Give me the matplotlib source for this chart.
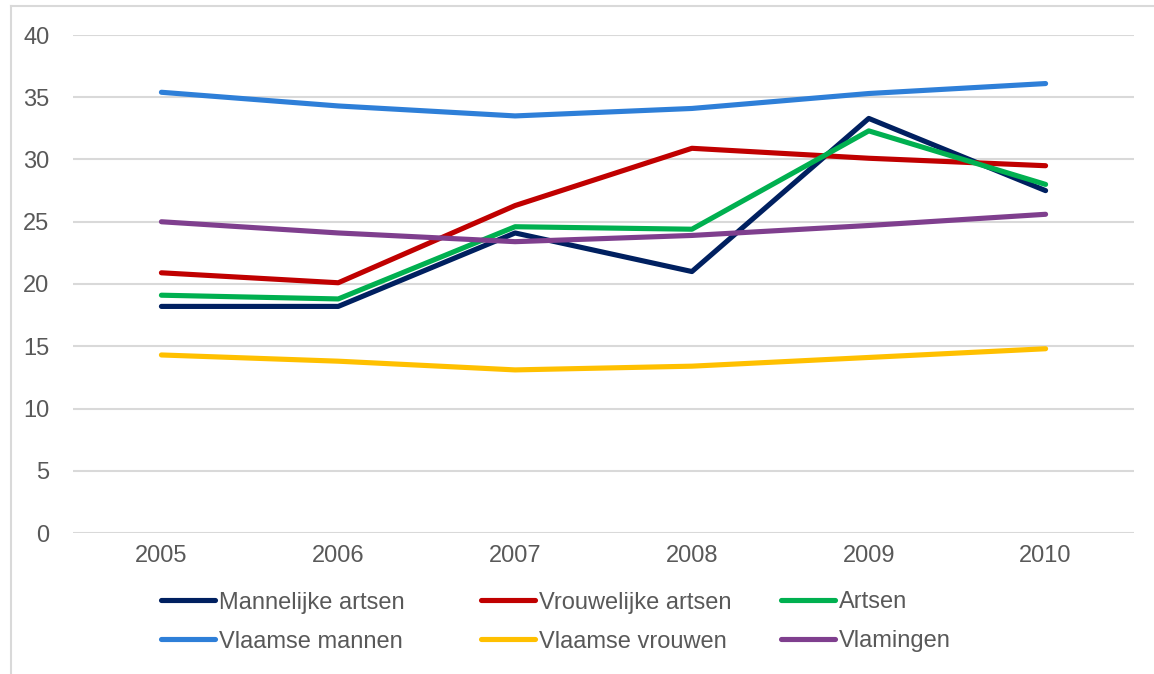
import matplotlib
matplotlib.use("Agg")
import matplotlib.pyplot as plt
from matplotlib.lines import Line2D

years = ["2005", "2006", "2007", "2008", "2009", "2010"]
mannelijke_artsen = [18.2, 18.2, 24.1, 21.0, 33.3, 27.5]
vrouwelijke_artsen = [20.9, 20.1, 26.3, 30.9, 30.1, 29.5]
artsen = [19.1, 18.8, 24.6, 24.4, 32.3, 28.0]
vlaamse_mannen = [35.4, 34.3, 33.5, 34.1, 35.3, 36.1]
vlaamse_vrouwen = [14.3, 13.8, 13.1, 13.4, 14.1, 14.8]
vlamingen = [25.0, 24.1, 23.4, 23.9, 24.7, 25.6]
yticks = [0, 5, 10, 15, 20, 25, 30, 35, 40]

series = [
    ("Mannelijke artsen", mannelijke_artsen, "#002060"),
    ("Vrouwelijke artsen", vrouwelijke_artsen, "#C00000"),
    ("Artsen", artsen, "#00B050"),
    ("Vlaamse mannen", vlaamse_mannen, "#2E7FD8"),
    ("Vlaamse vrouwen", vlaamse_vrouwen, "#FFC000"),
    ("Vlamingen", vlamingen, "#7F3F8E"),
]

plt.rcParams['font.family'] = ['Liberation Sans', 'DejaVu Sans']
W, H = 1154, 674
fig = plt.figure(figsize=(W / 100, H / 100), dpi=100)
ax = fig.add_axes([73 / W, 1 - 533 / H, (1134 - 73) / W, (533 - 35) / H])

x = list(range(len(years)))
handles = {}
for name, vals, col in series:
    ln, = ax.plot(x, vals, color=col, lw=3.7, solid_capstyle='round',
                  solid_joinstyle='round', label=name)
    handles[name] = ln

ax.set_xlim(-0.5, len(years) - 0.5)
ax.set_ylim(0, 40)
ax.set_yticks(yticks)
ax.set_xticks(x)
ax.set_xticklabels(years)
ax.grid(axis='y', color='#D9D9D9', lw=1.5)
ax.set_axisbelow(True)
for s in ax.spines.values():
    s.set_visible(False)
ax.tick_params(axis='both', length=0, labelsize=17, labelcolor='#595959')
ax.tick_params(axis='y', pad=17)
ax.tick_params(axis='x', pad=9)

# legend: three columns placed individually
cols = [
    (["Mannelijke artsen", "Vlaamse mannen"], 161),
    (["Vrouwelijke artsen", "Vlaamse vrouwen"], 481),
    (["Artsen", "Vlamingen"], 781),
]
for names, xpx in cols:
    hs = [Line2D([0], [0], color=handles[n].get_color(), lw=3.7,
                 solid_capstyle='round') for n in names]
    leg = fig.legend(hs, names, loc='center left',
                     bbox_to_anchor=(xpx / W, 1 - 622 / H),
                     frameon=False, fontsize=17, handlelength=2.3,
                     handletextpad=0.15, borderpad=0, borderaxespad=0,
                     labelspacing=0.72, labelcolor='#595959')

# figure border (left and top visible)
fig.add_artist(Line2D([11 / W, 11 / W], [0, 1 - 6 / H], color='#D9D9D9', lw=1.5,
                      transform=fig.transFigure))
fig.add_artist(Line2D([11 / W, 1], [1 - 6 / H, 1 - 6 / H], color='#D9D9D9', lw=1.5,
                      transform=fig.transFigure))

fig.savefig("out.png", dpi=100, facecolor='white')
